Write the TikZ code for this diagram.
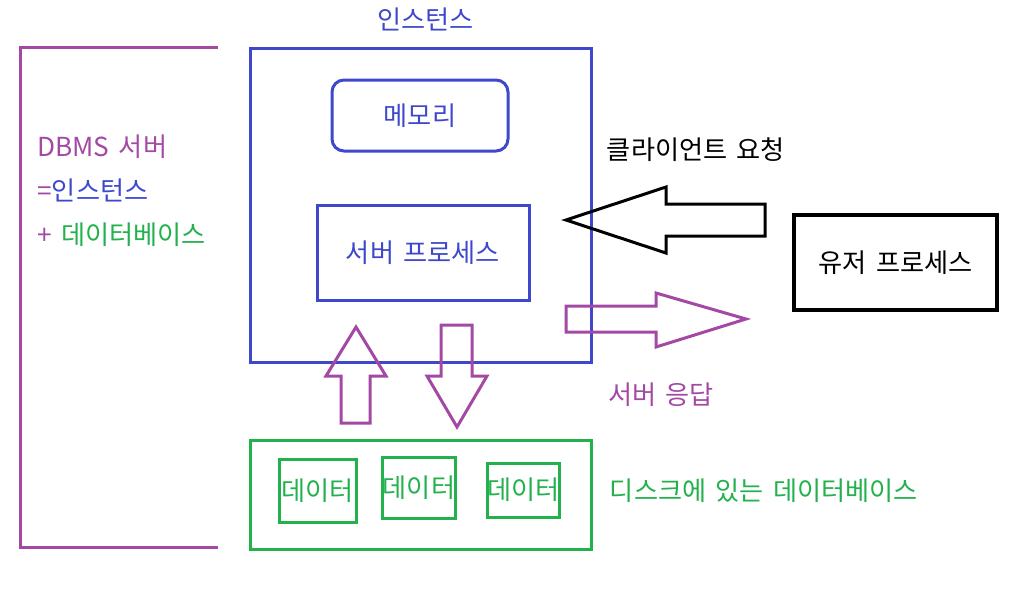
\documentclass[tikz,border=0pt]{standalone}
\usepackage{fontspec}
\setmainfont{Noto Sans CJK KR}[WordSpace=1.6]
\usetikzlibrary{positioning}
\definecolor{dbblue}{RGB}{63,72,204}
\definecolor{dbpurple}{RGB}{163,73,164}
\definecolor{dbgreen}{RGB}{34,177,76}

\begin{document}
\begin{tikzpicture}[x=0.5pt,y=-0.5pt,
  every node/.style={font=\fontsize{13.1}{15}\selectfont},
  box/.style={draw,line width=1.5pt,inner sep=0pt},
  databox/.style={box,dbgreen,text=dbgreen,minimum width=#1}]
\useasboundingbox (0,0) rectangle (1025,591);
% DBMS server bracket
\draw[dbpurple,line width=1.5pt] (218,47) -- (20,47) -- (20,547) -- (218,547);
\node[anchor=west,inner sep=0pt,text=dbpurple] (dbms) at (37,147) {DBMS 서버};
\node[anchor=west,inner sep=0pt,text=dbpurple] (eqinst) at (37,190) {=\textcolor{dbblue}{인스턴스}};
\node[anchor=west,inner sep=0pt,text=dbpurple] (plusdb) at (37,235) {+ \textcolor{dbgreen}{데이터베이스}};
% instance
\node[box,dbblue,minimum width=170.5pt,minimum height=157pt] (inst) at (420.5,205) {};
\node[text=dbblue] (instlabel) at (425.5,19) {인스턴스};
\node[box,dbblue,text=dbblue,rounded corners=6pt,minimum width=88pt,minimum height=35.5pt] (mem) at (420,115.5) {메모리};
\node[box,dbblue,text=dbblue,minimum width=106pt,minimum height=47.5pt] (srv) at (423,252.5) {서버 프로세스};
% user process
\node[box,black,line width=2pt,minimum width=101.5pt,minimum height=47.5pt] (user) at (895.5,262.5) {유저 프로세스};
% request / response arrows
\draw[line width=1.5pt] (566,220) -- (666,187) -- (666,204) -- (765,204) -- (765,236) -- (666,236) -- (666,253) -- cycle;
\node (req) at (696,150) {클라이언트 요청};
\draw[dbpurple,line width=1.5pt] (746,319) -- (656,293) -- (656,306) -- (566,306) -- (566,332) -- (656,332) -- (656,347) -- cycle;
\node[text=dbpurple] (resp) at (661,395) {서버 응답};
% read / write arrows
\draw[dbpurple,line width=1.5pt] (356,327) -- (386,376) -- (370,376) -- (370,423) -- (341,423) -- (341,376) -- (326,376) -- cycle;
\draw[dbpurple,line width=1.5pt] (457,427) -- (487,376) -- (472,376) -- (472,325) -- (441,325) -- (441,376) -- (427,376) -- cycle;
% database on disk
\node[box,dbgreen,minimum width=170.5pt,minimum height=54.5pt] (disk) at (420.5,494.5) {};
\node[databox=38.5pt,minimum height=31.5pt] (data1) at (317.5,490.5) {데이터};
\node[databox=36pt,minimum height=30.5pt] (data2) at (419,487.5) {데이터};
\node[databox=35.5pt,minimum height=27pt] (data3) at (523.5,490) {데이터};
\node[text=dbgreen] (disklabel) at (764,491) {디스크에 있는 데이터베이스};
\end{tikzpicture}
\end{document}
